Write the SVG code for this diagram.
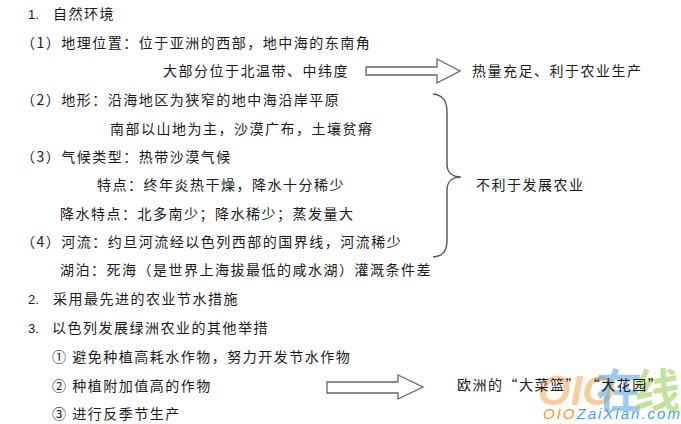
<svg xmlns="http://www.w3.org/2000/svg" width="681" height="424" viewBox="0 0 681 424">
<style>
.t{font-family:"Noto Sans CJK SC","Noto Sans CJK JP",sans-serif;font-size:14px;fill:#1a1a1a;letter-spacing:1.5px}
.n{font-family:"Liberation Sans",sans-serif;font-size:13px;fill:#1a1a1a}
.arrow{fill:#fff;stroke:#666;stroke-width:1.3}
.brace{fill:none;stroke:#555;stroke-width:1.4}
</style>
<rect width="681" height="424" fill="#fff"/>
<g id="texts">
<text class="n" x="28" y="19">1.</text><text class="t" x="53" y="19">自然环境</text>
<text class="t" x="21" y="48">（1）地理位置：位于亚洲的西部，地中海的东南角</text>
<text class="t" x="163" y="76">大部分位于北温带、中纬度</text>
<text class="t" x="21" y="105">（2）地形：沿海地区为狭窄的地中海沿岸平原</text>
<text class="t" x="110" y="134">南部以山地为主，沙漠广布，土壤贫瘠</text>
<text class="t" x="21" y="162">（3）气候类型：热带沙漠气候</text>
<text class="t" x="97" y="190">特点：终年炎热干燥，降水十分稀少</text>
<text class="t" x="60" y="219">降水特点：北多南少；降水稀少；蒸发量大</text>
<text class="t" x="21" y="247">（4）河流：约旦河流经以色列西部的国界线，河流稀少</text>
<text class="t" x="60" y="275">湖泊：死海（是世界上海拔最低的咸水湖）灌溉条件差</text>
<text class="n" x="28" y="304">2.</text><text class="t" x="53" y="304">采用最先进的农业节水措施</text>
<text class="n" x="28" y="333">3.</text><text class="t" x="52" y="333">以色列发展绿洲农业的其他举措</text>
<text class="t" x="52" y="362">① 避免种植高耗水作物，努力开发节水作物</text>
<text class="t" x="52" y="391">② 种植附加值高的作物</text>
<text class="t" x="52" y="419">③ 进行反季节生产</text>
</g>
<g id="result1"><text class="t" x="472" y="76">热量充足、利于农业生产</text></g>
<g id="result2"><text class="t" x="476" y="190">不利于发展农业</text></g>
<g id="connectors">
<path class="arrow" d="M366,67 H437 V59 L460,71 L437,83 V75 H366 Z"/>
<path class="brace" d="M433,94 C444,95 447,102 447,112 V164 C447,172 452,177 461,177 C452,177 447,182 447,190 V240 C447,250 444,256 433,257"/>
<path class="arrow" d="M327,382 H398 V375 L423,387 L398,399 V393 H327 Z"/>
</g>
<g id="watermark">
<text x="538" y="405" font-family="'Liberation Sans',sans-serif" font-size="42" font-style="italic" font-weight="bold" fill="#f7a04a" fill-opacity="0.55">OIO</text>
<text x="596" y="407" font-family="'Noto Sans CJK SC',sans-serif" font-size="46" font-weight="bold" fill="#5aa9df" fill-opacity="0.6">在</text>
<text x="634" y="407" font-family="'Noto Sans CJK SC',sans-serif" font-size="46" font-weight="bold" fill="#9ccf5a" fill-opacity="0.6">线</text>
<text x="543" y="419" font-family="'Liberation Sans',sans-serif" font-size="15" font-style="italic" letter-spacing="2"><tspan fill="#f39a3c">OIO</tspan><tspan fill="#4a9fd8">ZaiXian.com</tspan></text>
</g>
<g id="result3"><text class="t" x="457" y="390">欧洲的“大菜篮” “大花园”</text></g>
</svg>
